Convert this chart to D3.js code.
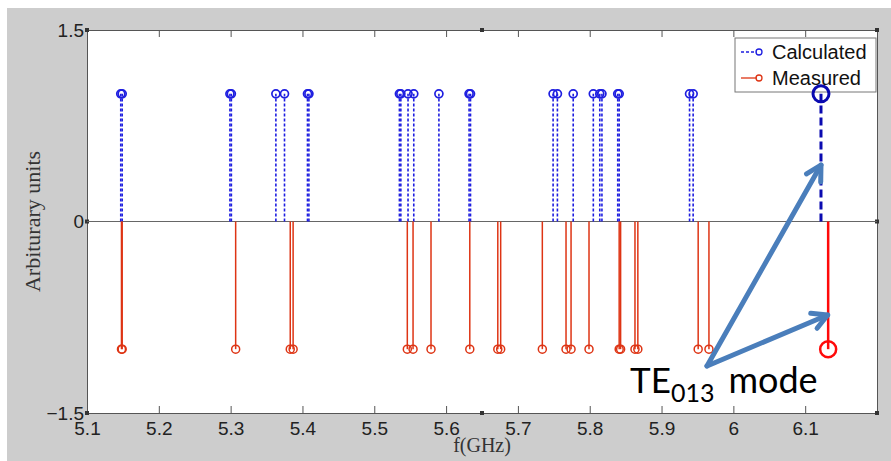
<!DOCTYPE html>
<html>
<head>
<meta charset="utf-8">
<script src="https://cdn.jsdelivr.net/npm/d3@7"></script>
<style>
html,body{margin:0;padding:0;background:#fff;}
svg{display:block;}
</style>
</head>
<body>
<svg id="chart" width="891" height="461"></svg>
<script>
// ---- data ----
const calcFreq = [5.147, 5.149, 5.299, 5.301, 5.363, 5.375, 5.407, 5.409, 5.535, 5.537, 5.547, 5.555, 5.590, 5.632, 5.634, 5.749, 5.755, 5.777, 5.805, 5.814, 5.817, 5.839, 5.841, 5.939, 5.944];
const calcValue = [1, 1, 1, 1, 1, 1, 1, 1, 1, 1, 1, 1, 1, 1, 1, 1, 1, 1, 1, 1, 1, 1, 1, 1, 1];
const measFreq = [5.148, 5.149, 5.307, 5.383, 5.387, 5.546, 5.554, 5.579, 5.633, 5.672, 5.676, 5.734, 5.767, 5.774, 5.799, 5.841, 5.843, 5.863, 5.867, 5.951, 5.966];
const measValue = [-1, -1, -1, -1, -1, -1, -1, -1, -1, -1, -1, -1, -1, -1, -1, -1, -1, -1, -1, -1, -1];
const te013CalcFreq = [6.122];
const te013CalcValue = [1];
const te013MeasFreq = [6.132];
const te013MeasValue = [-1];
const xTicks = [5.1, 5.2, 5.3, 5.4, 5.5, 5.6, 5.7, 5.8, 5.9, 6, 6.1];
const yTicks = [-1.5, 0, 1.5];
const seriesNames = ["Calculated", "Measured"];

// ---- layout ----
const svg = d3.select("#chart");
const W = 891, H = 461;
const L = 87, R = 877, T = 30, B = 413;
const x = d3.scaleLinear().domain([5.1, 6.2]).range([L, R]);
const y = d3.scaleLinear().domain([-1.5, 1.5]).range([B, T]);

const blue = "#1e1ee0", red = "#de3414", axisC = "#555";

// figure background
svg.append("rect").attr("width", W).attr("height", H).attr("fill", "#fff");
svg.append("rect").attr("x", 7).attr("y", 8).attr("width", W - 7).attr("height", H - 8).attr("fill", "#cdcdcd");
// plot area
svg.append("rect").attr("x", L).attr("y", T).attr("width", R - L).attr("height", B - T).attr("fill", "#fff");

// x axis (bottom) with inward ticks
const xAxisB = d3.axisBottom(x).tickValues(xTicks).tickSize(-7).tickPadding(9).tickFormat(d3.format("~g"));
const gxb = svg.append("g").attr("transform", `translate(0,${B})`).call(xAxisB);
gxb.select(".domain").attr("stroke", axisC);
gxb.selectAll(".tick line").attr("stroke", axisC);
gxb.selectAll(".tick text").attr("font-family", "'Liberation Sans', Arial, sans-serif").attr("font-size", 19).attr("fill", "#222");

// top axis, ticks only
const xAxisT = d3.axisTop(x).tickValues(xTicks).tickSize(-7).tickFormat("");
const gxt = svg.append("g").attr("transform", `translate(0,${T})`).call(xAxisT);
gxt.select(".domain").attr("stroke", axisC);
gxt.selectAll(".tick line").attr("stroke", axisC);

// y axis labels
const yAxisL = d3.axisLeft(y).tickValues(yTicks).tickSize(0).tickPadding(3).tickFormat(d3.format("~g"));
const gyl = svg.append("g").attr("transform", `translate(${L},0)`).call(yAxisL);
gyl.select(".domain").attr("stroke", axisC);
gyl.selectAll(".tick text").attr("font-family", "'Liberation Sans', Arial, sans-serif").attr("font-size", 19).attr("fill", "#222");
const gyr = svg.append("g").attr("transform", `translate(${R},0)`).call(d3.axisRight(y).tickValues(yTicks).tickSize(0).tickFormat(""));
gyr.select(".domain").attr("stroke", axisC);

// small tick squares
const sq = [];
yTicks.forEach(v => { sq.push([L, y(v)]); sq.push([R, y(v)]); });
sq.push([x(5.65), T]); sq.push([x(5.65), B]);
svg.append("g").selectAll("rect").data(sq).join("rect")
  .attr("x", d => d[0] - 2).attr("y", d => d[1] - 2).attr("width", 4).attr("height", 4).attr("fill", "#333");

// zero line
svg.append("line").attr("x1", L).attr("x2", R).attr("y1", y(0)).attr("y2", y(0)).attr("stroke", "#666").attr("stroke-width", 1.2);

// axis titles
svg.append("text").attr("transform", `translate(32,${y(0)}) rotate(-90)`).attr("text-anchor", "middle")
  .attr("dominant-baseline", "central")
  .attr("font-family", "'Liberation Serif', 'Times New Roman', serif").attr("font-size", 22).attr("fill", "#333")
  .text("Arbiturary units");
svg.append("text").attr("x", x(5.65)).attr("y", 452).attr("text-anchor", "middle")
  .attr("font-family", "'Liberation Serif', 'Times New Roman', serif").attr("font-size", 20).attr("fill", "#333")
  .text("f(GHz)");

// legend
const lg = svg.append("g");
lg.append("rect").attr("x", 735).attr("y", 38).attr("width", 141).attr("height", 54).attr("fill", "#fff").attr("stroke", "#777");
const legendRows = [
  {name: seriesNames[0], color: blue, dash: "3,2", cy: 52},
  {name: seriesNames[1], color: red, dash: null, cy: 78}
];
legendRows.forEach(r => {
  lg.append("line").attr("x1", 741).attr("x2", 757).attr("y1", r.cy).attr("y2", r.cy)
    .attr("stroke", r.color).attr("stroke-width", 1.3).attr("stroke-dasharray", r.dash);
  lg.append("circle").attr("cx", 759).attr("cy", r.cy).attr("r", 3).attr("fill", "none").attr("stroke", r.color).attr("stroke-width", 1.3);
  lg.append("text").attr("x", 772).attr("y", r.cy).attr("dominant-baseline", "central")
    .attr("font-family", "'Liberation Sans', Arial, sans-serif").attr("font-size", 20).attr("fill", "#111")
    .text(r.name);
});

// stems
function stems(freq, vals, color, dash, width, radius, cw) {
  const data = freq.map((f, i) => ({f, v: vals[i]}));
  const g = svg.append("g");
  g.selectAll("line").data(data).join("line")
    .attr("x1", d => x(d.f)).attr("x2", d => x(d.f))
    .attr("y1", y(0)).attr("y2", d => y(d.v))
    .attr("stroke", color).attr("stroke-width", width).attr("stroke-dasharray", dash);
  g.selectAll("circle").data(data).join("circle")
    .attr("cx", d => x(d.f)).attr("cy", d => y(d.v)).attr("r", radius)
    .attr("fill", "none").attr("stroke", color).attr("stroke-width", cw);
}
stems(calcFreq, calcValue, blue, "3,2", 1.6, 4, 1.7);
stems(measFreq, measValue, red, null, 1.5, 4, 1.5);
stems(te013CalcFreq, te013CalcValue, "#0a0ab0", "8,4", 3, 8, 3);
stems(te013MeasFreq, te013MeasValue, "#ff0a0a", null, 2.5, 8, 2.5);

// annotation arrows
const arrowC = "#4a7ebb";
const start = [707, 366];
const tips = [[x(te013CalcFreq[0]), 165], [x(te013MeasFreq[0]) - 0.5, 315]];
const ag = svg.append("g").attr("stroke", arrowC).attr("stroke-width", 5).attr("fill", "none").attr("stroke-linecap", "round").attr("stroke-linejoin", "round");
tips.forEach(tp => {
  ag.append("line").attr("x1", start[0]).attr("y1", start[1]).attr("x2", tp[0]).attr("y2", tp[1]);
  const ang = Math.atan2(tp[1] - start[1], tp[0] - start[0]);
  const len = 17, spread = 0.5;
  const p1 = [tp[0] - len * Math.cos(ang - spread), tp[1] - len * Math.sin(ang - spread)];
  const p2 = [tp[0] - len * Math.cos(ang + spread), tp[1] - len * Math.sin(ang + spread)];
  ag.append("path").attr("d", `M${p1[0]},${p1[1]}L${tp[0]},${tp[1]}L${p2[0]},${p2[1]}`);
});

// annotation text (flowing tspans so the parts never overlap)
const at = svg.append("text").attr("x", 630).attr("y", 393).attr("font-family", "Lato, 'Open Sans', sans-serif").attr("fill", "#000");
at.append("tspan").attr("font-size", 35).text("TE");
at.append("tspan").attr("dy", 9).attr("font-size", 25).text("013");
at.append("tspan").attr("dy", -9).attr("dx", 14).attr("font-size", 36).text("mode");
</script>
</body>
</html>
